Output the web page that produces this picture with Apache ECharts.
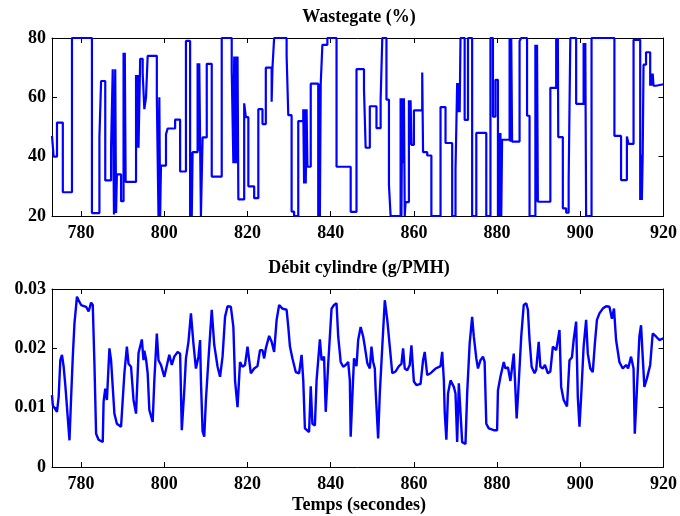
<!DOCTYPE html>
<html>
<head>
<meta charset="utf-8">
<script src="https://cdn.jsdelivr.net/npm/echarts@6/dist/echarts.min.js"></script>
<style>
html,body{margin:0;padding:0;background:#fff;}
#c{width:680px;height:516px;}
</style>
</head>
<body>
<div id="c"></div>
<script>
// ---- Data ----
const xTicks = [780, 800, 820, 840, 860, 880, 900, 920];
const wgTicks = [20, 40, 60, 80];
const debitTicks = [0, 0.01, 0.02, 0.03];

// Wastegate (%) — step signal: time of change, new value
const wgTime = [773,773.4,774.2,775.6,777.8,782.6,784.4,784.8,785.8,787.2,787.6,787.9,788.2,788.4,788.6,789.6,790.2,790.4,790.5,790.7,
793.2,793.4,793.6,793.8,794.2,794.8,795.2,795.6,796,798.2,798.6,798.8,799.0,799.2,800.4,800.8,802.6,803.8,805.2,806.2,806.5,806.6,806.8,
808.0,808.2,808.4,808.8,809.2,810.2,811.4,813.8,816.2,816.6,816.8,817.0,817.2,817.4,817.6,817.8,819.2,819.6,820.2,821.6,822.6,823.6,824.4,
825.8,826.0,826.4,829.4,829.8,830.6,831.2,832.2,833.4,833.6,833.8,834.0,834.2,834.4,835.2,837.0,837.2,837.4,837.6,838.0,839.2,841.4,844.8,
846.2,848.0,848.4,849.4,851.0,852.0,852.4,853.4,854.0,854.4,856.8,857.0,857.2,857.4,857.6,857.8,858.0,858.8,859.0,859.2,859.4,860.0,
862.0,862.2,863.2,864.2,866.4,867.6,869.2,870.0,870.4,870.6,870.8,871.0,871.2,872.2,873.0,874.0,875.0,877.4,878.4,879.0,879.6,880.2,
880.4,880.6,880.8,881.0,881.2,883.0,883.2,883.4,883.6,885.4,885.8,887.2,887.8,889.2,889.4,889.6,889.8,892.8,894.2,894.4,894.6,894.7,
895.8,896.6,897.2,897.6,899.0,900.8,901.0,901.2,901.4,902.7,908.2,909.8,911.2,911.6,912.8,914.4,914.6,914.8,915.0,915.2,915.8,916.8,
917.0,917.2,917.4,917.6,918.2,920];
const wgValue = [47,40,51.5,28,80,21,46.5,65.5,32,43,69.5,20.5,69.5,21,34,25,75,32,75,31.5,
67.5,43,67.5,43,73,68,56,60,74,60,20,60,20,37,47.5,49.5,52.5,35,79,20,41.5,20,41.5,
71.5,42,71.5,20,46.5,71.3,33.3,80,69.3,37.8,73.8,37.8,73.8,37.8,73.8,25.6,58,53.3,30,26,56,51,70,
58.5,70,80,74,54,21.5,20,52,56,31,56,31,56,36.6,64.6,20,64.6,20,64.6,77.7,80,36.6,21.4,
69.5,62.8,43,57,49.6,59.2,80,59.2,30.5,20,59.7,20,59.7,37.8,59.7,20,24.7,59,44,59,44,55.6,
68.4,41.5,40.4,20,56.7,44.6,20,35.5,64.8,55,64.8,55,80,52.4,80,20,48,20,80,53.5,65.9,20,
48,20,48,20,45.7,80,45,80,45.1,79,80,53.8,20,77.7,24.8,77.7,24.8,63.2,80,63.2,80,46.6,
22.6,21.1,32,80,57.8,78.3,57.8,78.3,20,80,47,32.1,46.8,44.3,79.4,25.4,40.6,25.4,40.6,71,75.2,63.9,
68,63.9,68,63.9,64.4,64.4];

// Débit cylindre (g/PMH)
const debitTime = [773.0,773.2,774.2,774.6,775.0,775.4,775.8,776.2,776.6,777.2,777.6,778.0,778.4,779.0,779.4,780.0,781.2,781.8,782.4,782.8,
783.2,783.6,784.2,785.2,785.4,785.8,786.2,786.8,787.2,787.6,788.0,788.6,789.6,790.4,791.0,791.4,792.0,792.6,793.2,793.8,
794.6,795.0,795.2,795.6,796.0,796.4,797.2,797.6,798.2,798.6,799.2,800.0,800.8,801.2,801.8,802.4,803.2,803.8,804.2,804.8,
805.2,805.8,806.4,807.0,807.6,808.2,808.6,808.8,809.2,809.6,810.0,810.6,811.4,812.0,812.8,813.4,814.0,814.6,815.2,816.0,
816.6,817.0,817.6,818.2,818.8,819.4,820.0,820.4,820.8,821.6,822.4,823.0,823.6,824.0,824.4,825.2,825.8,826.4,827.0,827.6,
828.4,829.4,829.8,830.2,830.8,831.6,832.4,833.0,833.4,833.8,834.8,835.2,835.6,836.2,836.6,837.4,837.8,838.4,838.8,839.4,
840.2,840.8,841.4,841.8,842.4,843.0,843.6,844.2,844.6,844.8,845.2,845.6,846.2,846.6,847.2,847.8,848.2,848.8,849.4,849.8,
850.2,850.6,850.8,851.4,851.8,852.4,853.0,853.6,854.2,854.8,855.6,856.4,857.0,857.4,857.8,858.4,859.0,859.4,860.0,860.6,
861.6,862.2,862.6,863.2,864.0,864.6,865.2,865.8,866.4,866.8,867.2,867.4,867.8,868.2,868.8,869.6,870.0,870.4,870.8,871.2,
871.6,872.4,872.8,873.4,874.0,874.4,875.0,875.4,876.0,876.6,877.0,877.4,878.0,879.2,880.0,880.2,880.8,881.6,882.0,882.6,
883.2,884.0,884.3,884.7,885.1,885.8,886.4,887.0,887.4,887.8,888.3,889.0,889.4,890.0,890.4,891.0,891.5,892.2,892.8,893.4,
894.2,894.6,895.0,895.4,896.0,896.8,897.4,898.0,898.4,899.0,899.4,899.8,900.2,900.8,901.4,901.8,902.4,903.0,903.5,904.0,
904.6,905.4,906.2,907.0,907.6,908.1,908.6,909.4,910.2,911.0,911.5,912.2,912.8,913.1,913.6,914.2,914.6,915.0,915.4,916.0,
916.8,917.4,918.2,919.0,920.0];
const debitValue = [0.0121,0.0104,0.0093,0.0118,0.0180,0.0189,0.0169,0.0138,0.0135,0.0045,0.0118,0.0186,0.0242,0.0287,0.0281,0.0273,0.0270,0.0262,0.0277,0.0273,
0.0174,0.0056,0.0046,0.0042,0.0110,0.0132,0.0113,0.0200,0.0180,0.0180,0.0090,0.0073,0.0068,0.0158,0.0203,0.0174,0.0169,0.0113,0.0090,0.0192,
0.0215,0.0180,0.0196,0.0182,0.0158,0.0096,0.0076,0.0146,0.0225,0.0180,0.0172,0.0152,0.0177,0.0189,0.0172,0.0186,0.0194,0.0191,0.0062,0.0129,
0.0183,0.0211,0.0259,0.0208,0.0166,0.0186,0.0214,0.0146,0.0060,0.0051,0.0113,0.0180,0.0265,0.0206,0.0169,0.0152,0.0186,0.0253,0.0271,0.0270,
0.0236,0.0146,0.0101,0.0177,0.0169,0.0172,0.0203,0.0180,0.0158,0.0166,0.0170,0.0197,0.0197,0.0183,0.0200,0.0221,0.0211,0.0194,0.0248,0.0273,
0.0267,0.0265,0.0236,0.0203,0.0183,0.0160,0.0158,0.0189,0.0146,0.0065,0.0059,0.0136,0.0073,0.0070,0.0146,0.0215,0.0180,0.0186,0.0093,0.0174,
0.0267,0.0273,0.0276,0.0220,0.0177,0.0169,0.0172,0.0177,0.0146,0.0051,0.0118,0.0183,0.0170,0.0214,0.0236,0.0220,0.0203,0.0175,0.0166,0.0203,
0.0177,0.0166,0.0129,0.0048,0.0124,0.0203,0.0281,0.0248,0.0203,0.0158,0.0161,0.0170,0.0174,0.0200,0.0166,0.0163,0.0172,0.0205,0.0144,0.0138,
0.0140,0.0180,0.0194,0.0155,0.0158,0.0162,0.0166,0.0168,0.0170,0.0194,0.0146,0.0093,0.0046,0.0124,0.0146,0.0135,0.0124,0.0042,0.0141,0.0141,
0.0042,0.0039,0.0124,0.0208,0.0253,0.0220,0.0183,0.0166,0.0180,0.0186,0.0177,0.0073,0.0065,0.0062,0.0062,0.0129,0.0152,0.0177,0.0166,0.0168,
0.0145,0.0191,0.0146,0.0082,0.0129,0.0220,0.0273,0.0276,0.0265,0.0214,0.0169,0.0158,0.0164,0.0211,0.0169,0.0166,0.0172,0.0158,0.0161,0.0203,
0.0197,0.0194,0.0231,0.0135,0.0113,0.0102,0.0180,0.0185,0.0214,0.0245,0.0118,0.0068,0.0118,0.0203,0.0248,0.0191,0.0166,0.0160,0.0208,0.0248,
0.0259,0.0267,0.0271,0.0270,0.0250,0.0267,0.0214,0.0177,0.0166,0.0172,0.0166,0.0186,0.0166,0.0056,0.0129,0.0220,0.0239,0.0186,0.0135,0.0149,
0.0172,0.0225,0.0220,0.0214,0.0217];

// ---- Chart ----
const FONT = '"Liberation Serif", "DejaVu Serif", serif';
const wgData = wgTime.map((t, i) => [t, wgValue[i]]);
const debitData = debitTime.map((t, i) => [t, debitValue[i]]);

function xAxis(grid, pos, labels) {
  return {
    type: 'value', gridIndex: grid, position: pos, min: 773, max: 920,
    axisLine: { show: true, onZero: false, lineStyle: { color: '#000', width: 1 } },
    axisTick: { show: true, inside: true, length: 5, customValues: xTicks, lineStyle: { color: '#000' } },
    axisLabel: { show: labels, customValues: xTicks, color: '#000', fontFamily: FONT, fontSize: 18, fontWeight: 'bold', margin: 8 },
    splitLine: { show: false }
  };
}
function yAxis(grid, pos, labels, min, max, interval, ticks) {
  return {
    type: 'value', gridIndex: grid, position: pos, min: min, max: max, interval: interval,
    axisLine: { show: true, onZero: false, lineStyle: { color: '#000', width: 1 } },
    axisTick: { show: true, inside: true, length: 5, lineStyle: { color: '#000' } },
    axisLabel: { show: labels, color: '#000', fontFamily: FONT, fontSize: 18, fontWeight: 'bold', margin: 6,
      formatter: v => String(parseFloat(v.toFixed(4))) },
    splitLine: { show: false }
  };
}

const chart = echarts.init(document.getElementById('c'), null, { renderer: 'canvas' });
chart.setOption({
  animation: false,
  backgroundColor: '#fff',
  grid: [
    { left: 52, right: 14, top: 38, height: 178 },
    { left: 52, right: 14, top: 289, height: 178 }
  ],
  xAxis: [xAxis(0, 'bottom', true), xAxis(0, 'top', false), xAxis(1, 'bottom', true), xAxis(1, 'top', false)],
  yAxis: [
    yAxis(0, 'left', true, 20, 80, 20, wgTicks), yAxis(0, 'right', false, 20, 80, 20, wgTicks),
    yAxis(1, 'left', true, 0, 0.03, 0.01, debitTicks), yAxis(1, 'right', false, 0, 0.03, 0.01, debitTicks)
  ],
  graphic: [
    { type: 'text', x: 359, y: 17, style: { text: 'Wastegate (%)', textAlign: 'center', textVerticalAlign: 'middle', fill: '#000', font: 'bold 18px ' + FONT } },
    { type: 'text', x: 359, y: 268, style: { text: 'Débit cylindre (g/PMH)', textAlign: 'center', textVerticalAlign: 'middle', fill: '#000', font: 'bold 18px ' + FONT } },
    { type: 'text', x: 359, y: 505, style: { text: 'Temps (secondes)', textAlign: 'center', textVerticalAlign: 'middle', fill: '#000', font: 'bold 18px ' + FONT } }
  ],
  series: [
    { type: 'line', xAxisIndex: 0, yAxisIndex: 0, data: wgData, step: 'end', showSymbol: false,
      lineStyle: { color: '#0000ff', width: 2.2 }, clip: true },
    { type: 'line', xAxisIndex: 2, yAxisIndex: 2, data: debitData, showSymbol: false,
      lineStyle: { color: '#0000ff', width: 2.4 }, clip: true }
  ]
});
</script>
</body>
</html>
